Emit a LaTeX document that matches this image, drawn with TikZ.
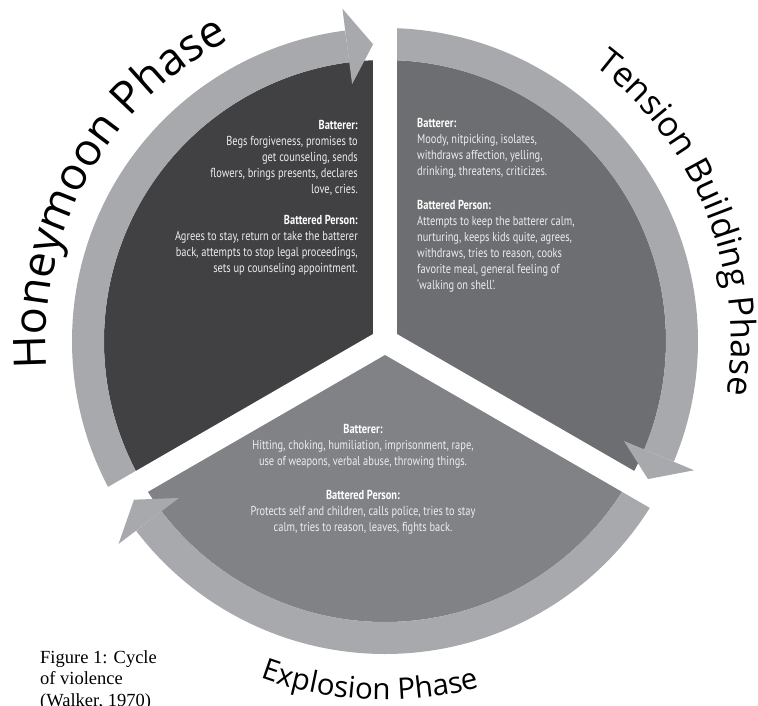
\documentclass[tikz,border=0pt]{standalone}
\usepackage{fontspec}
\usetikzlibrary{decorations.text}
\newfontfamily\phasefont{Open Sans}
\newfontfamily\infofont[FakeStretch=0.8]{PT Sans}
\newfontfamily\capfont{Liberation Serif}
\definecolor{honeygrey}{HTML}{414042}
\definecolor{tensiongrey}{HTML}{6D6E71}
\definecolor{explosiongrey}{HTML}{808285}
\definecolor{ringgrey}{HTML}{A7A9AC}
\definecolor{infogrey}{HTML}{EDEDEE}
\newcommand\hmfont{\phasefont\fontsize{45}{45}\selectfont}
\newcommand\tbfont{\phasefont\fontsize{34.5}{35}\selectfont}
\newcommand\exfont{\phasefont\fontsize{29.5}{30}\selectfont}
\newcommand\infotext{\infofont\fontsize{13}{16}\selectfont}
\newcommand\infohead[1]{{\bfseries\color{white}#1}}

\begin{document}
\begin{tikzpicture}[x=1pt, y=1pt,
	ring/.style={draw=ringgrey, line width=32pt},
	gap/.style={draw=white, line width=24pt},
	head/.style={fill=ringgrey},
	info/.style={inner sep=0pt, text=infogrey, font=\infotext},
	phase/.style={decorate, decoration={text along path, text align=center, text={#1}}}]
	\useasboundingbox (-385,-364) rectangle (373,341);
	\coordinate (O) at (0,0);
	% sectors
	\fill[honeygrey] (O) -- (210:281) arc[start angle=210, end angle=90, radius=281] -- cycle;
	\fill[tensiongrey] (O) -- (90:281) arc[start angle=90, end angle=-30, radius=281] -- cycle;
	\fill[explosiongrey] (O) -- (-30:281) arc[start angle=-30, end angle=-150, radius=281] -- cycle;
	% rings, cut by the gaps
	\draw[ring] (210:297) arc[start angle=210, end angle=97.3, radius=297];
	\draw[ring] (90:297) arc[start angle=90, end angle=-22.7, radius=297];
	\draw[ring] (-30:297) arc[start angle=-30, end angle=-142.7, radius=297];
	\foreach \a in {90,-30,210}
		\draw[gap] (O) -- (\a:330);
	\fill[head] (97.3:259) -- (92.3:297) -- (97.3:335) -- cycle;
	\fill[head] (-22.7:259) -- (-27.7:297) -- (-22.7:335) -- cycle;
	\fill[head] (-142.7:259) -- (-147.7:297) -- (-142.7:335) -- cycle;
	% phase names
	\path[phase={|\hmfont|Honeymoon Phase}] (201:339) arc[start angle=201, end angle=101, radius=339];
	\path[phase={|\tbfont|Tension Building Phase}] (67:346) arc[start angle=67, end angle=-23, radius=346];
	\path[phase={|\exfont|Explosion Phase}] (232.5:359) arc[start angle=232.5, end angle=302.5, radius=359];
	% texts
	\node[info, anchor=north east, align=right] (hmBatterer) at (-27,221) {\infohead{Batterer:}\\Begs forgiveness, promises to\\get counseling, sends\\flowers, brings presents, declares\\love, cries.};
	\node[info, anchor=north east, align=right] (hmPerson) at (-27,126) {\infohead{Battered Person:}\\Agrees to stay, return or take the batterer\\back, attempts to stop legal proceedings,\\sets up counseling appointment.};
	\node[info, anchor=north west, align=left] (tbBatterer) at (32,223) {\infohead{Batterer:}\\Moody, nitpicking, isolates,\\withdraws affection, yelling,\\drinking, threatens, criticizes.};
	\node[info, anchor=north west, align=left] (tbPerson) at (32,141) {\infohead{Battered Person:}\\Attempts to keep the batterer calm,\\nurturing, keeps kids quite, agrees,\\withdraws, tries to reason, cooks\\favorite meal, general feeling of\\‘walking on shell’.};
	\node[info, anchor=north, align=center] (exBatterer) at (-22,-83) {\infohead{Batterer:}\\Hitting, choking, humiliation, imprisonment, rape,\\use of weapons, verbal abuse, throwing things.};
	\node[info, anchor=north, align=center] (exPerson) at (-22,-149) {\infohead{Battered Person:}\\Protects self and children, calls police, tries to stay\\calm, tries to reason, leaves, fights back.};
	\node[anchor=north west, align=left, inner sep=0pt, font=\capfont\fontsize{18.5}{21.5}\selectfont] (caption) at (-345,-309) {Figure 1: Cycle\\of violence\\(Walker, 1970)};
\end{tikzpicture}
\end{document}
